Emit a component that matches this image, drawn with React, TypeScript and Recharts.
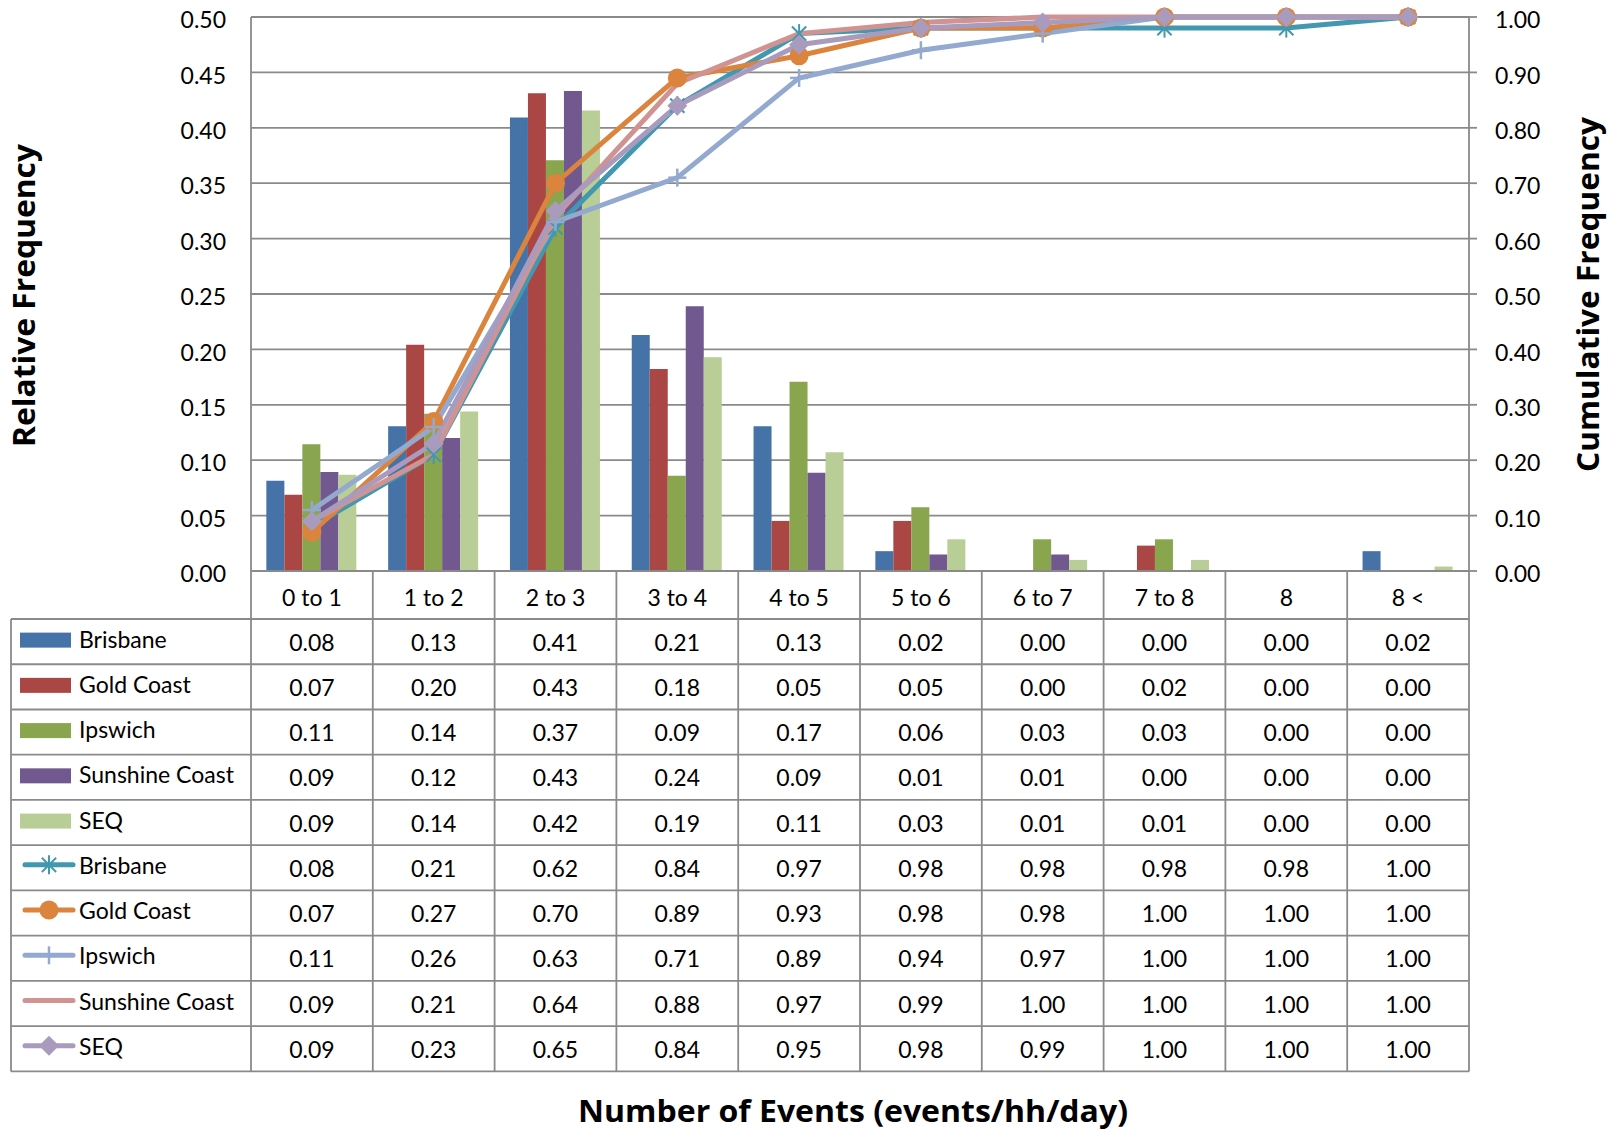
import React from "react";
import {
  ComposedChart,
  Bar,
  Line,
  XAxis,
  YAxis,
  CartesianGrid,
} from "recharts";

// categories (events/hh/day)
const categories = ["0 to 1", "1 to 2", "2 to 3", "3 to 4", "4 to 5", "5 to 6", "6 to 7", "7 to 8", "8", "8 <"];

// relative frequency (bars, left axis)
const brisbaneRel = [0.0815, 0.1307, 0.4093, 0.2129, 0.1307, 0.0179, 0, 0, 0, 0.0179];
const goldCoastRel = [0.0689, 0.2043, 0.4311, 0.1822, 0.0452, 0.0452, 0, 0.0229, 0, 0];
const ipswichRel = [0.1143, 0.142, 0.3707, 0.086, 0.1707, 0.0575, 0.0286, 0.0286, 0, 0];
const sunshineRel = [0.0893, 0.12, 0.4332, 0.239, 0.0886, 0.0149, 0.0149, 0, 0, 0];
const seqRel = [0.0868, 0.144, 0.4156, 0.1929, 0.1071, 0.0286, 0.01, 0.01, 0, 0.004];

// cumulative frequency (lines, right axis)
const brisbaneCum = [0.08, 0.21, 0.62, 0.84, 0.97, 0.98, 0.98, 0.98, 0.98, 1.0];
const goldCoastCum = [0.07, 0.27, 0.7, 0.89, 0.93, 0.98, 0.98, 1.0, 1.0, 1.0];
const ipswichCum = [0.11, 0.26, 0.63, 0.71, 0.89, 0.94, 0.97, 1.0, 1.0, 1.0];
const sunshineCum = [0.09, 0.21, 0.64, 0.88, 0.97, 0.99, 1.0, 1.0, 1.0, 1.0];
const seqCum = [0.09, 0.23, 0.65, 0.84, 0.95, 0.98, 0.99, 1.0, 1.0, 1.0];

const leftTicks = [0, 0.05, 0.1, 0.15, 0.2, 0.25, 0.3, 0.35, 0.4, 0.45, 0.5];
const rightTicks = [0, 0.1, 0.2, 0.3, 0.4, 0.5, 0.6, 0.7, 0.8, 0.9, 1.0];

// layout
const W = 1616;
const H = 1135;
const PLOT_LEFT = 251;
const PLOT_RIGHT = 1469;
const PLOT_TOP = 17;
const PLOT_BOTTOM = 571;
const CAT_ROW_BOTTOM = 619;
const TABLE_LEFT = 11;
const ROW_H = 45.24;
const GRID = "#8a8a8a";
const FONT = "Lato, sans-serif";
const TITLE_FONT = '"Open Sans", sans-serif';

type Marker = "star" | "circle" | "plus" | "none" | "diamond";

const barSeries = [
  { key: "bRel", name: "Brisbane", color: "#4572A7", values: brisbaneRel },
  { key: "gRel", name: "Gold Coast", color: "#AA4643", values: goldCoastRel },
  { key: "iRel", name: "Ipswich", color: "#89A54E", values: ipswichRel },
  { key: "sRel", name: "Sunshine Coast", color: "#71588F", values: sunshineRel },
  { key: "qRel", name: "SEQ", color: "#B9CD96", values: seqRel },
];

const lineSeries: { key: string; name: string; color: string; values: number[]; marker: Marker }[] = [
  { key: "bCum", name: "Brisbane", color: "#4198AF", values: brisbaneCum, marker: "star" },
  { key: "gCum", name: "Gold Coast", color: "#DB843D", values: goldCoastCum, marker: "circle" },
  { key: "iCum", name: "Ipswich", color: "#93A9CF", values: ipswichCum, marker: "plus" },
  { key: "sCum", name: "Sunshine Coast", color: "#D19392", values: sunshineCum, marker: "none" },
  { key: "qCum", name: "SEQ", color: "#A99BBD", values: seqCum, marker: "diamond" },
];

const data = categories.map((cat, i) => {
  const row: Record<string, string | number> = { cat };
  barSeries.forEach((s) => (row[s.key] = s.values[i]));
  lineSeries.forEach((s) => (row[s.key] = s.values[i]));
  return row;
});

function MarkerShape({ type, cx, cy, color }: { type: Marker; cx: number; cy: number; color: string }) {
  if (cx == null || cy == null) return null;
  if (type === "star") {
    const r = 9.5;
    const d = r * 0.75;
    return (
      <g stroke={color} strokeWidth={2}>
        <line x1={cx} y1={cy - r} x2={cx} y2={cy + r} />
        <line x1={cx - d} y1={cy - d} x2={cx + d} y2={cy + d} />
        <line x1={cx - d} y1={cy + d} x2={cx + d} y2={cy - d} />
      </g>
    );
  }
  if (type === "circle") return <circle cx={cx} cy={cy} r={9.5} fill={color} />;
  if (type === "plus") {
    const r = 9;
    return (
      <g stroke={color} strokeWidth={2.5}>
        <line x1={cx} y1={cy - r} x2={cx} y2={cy + r} />
        <line x1={cx - r} y1={cy} x2={cx + r} y2={cy} />
      </g>
    );
  }
  if (type === "diamond") {
    const r = 10;
    return <polygon points={`${cx},${cy - r} ${cx + r},${cy} ${cx},${cy + r} ${cx - r},${cy}`} fill={color} />;
  }
  return null;
}

export default function App() {
  const colW = (PLOT_RIGHT - PLOT_LEFT) / categories.length;
  const tableRows = [
    ...barSeries.map((s) => ({ ...s, kind: "bar" as const, marker: "none" as Marker })),
    ...lineSeries.map((s) => ({ ...s, kind: "line" as const })),
  ];
  const tableBottom = CAT_ROW_BOTTOM + ROW_H * tableRows.length;
  const tickStyle = { fontFamily: FONT, fontSize: 23, fill: "#000" };
  const yTickStyle = { ...tickStyle, dy: 3 };

  return (
    <div style={{ position: "absolute", left: 0, top: 0, width: W, height: H, background: "#fff", fontFamily: FONT }}>
      <ComposedChart
        width={W}
        height={CAT_ROW_BOTTOM}
        data={data}
        margin={{ top: PLOT_TOP, right: 0, bottom: 0, left: 0 }}
        barCategoryGap="12.6%"
        barGap={0}
      >
        <CartesianGrid yAxisId="left" vertical={false} stroke={GRID} strokeWidth={1.8} strokeDasharray="" />
        <XAxis
          dataKey="cat"
          interval={0}
          height={CAT_ROW_BOTTOM - PLOT_BOTTOM}
          tickLine={false}
          tickSize={0}
          tickMargin={19}
          axisLine={{ stroke: GRID, strokeWidth: 1.8 }}
          tick={tickStyle}
        />
        <YAxis
          yAxisId="left"
          orientation="left"
          width={PLOT_LEFT}
          domain={[0, 0.5]}
          ticks={leftTicks}
          tickFormatter={(v: number) => v.toFixed(2)}
          tickLine={false}
          tickSize={8}
          tickMargin={17}
          axisLine={{ stroke: GRID, strokeWidth: 1.8 }}
          tick={yTickStyle}
        />
        <YAxis
          yAxisId="right"
          orientation="right"
          width={W - PLOT_RIGHT}
          domain={[0, 1]}
          ticks={rightTicks}
          tickFormatter={(v: number) => v.toFixed(2)}
          tickLine={{ stroke: GRID, strokeWidth: 1.8 }}
          tickSize={8}
          tickMargin={18}
          axisLine={{ stroke: GRID, strokeWidth: 1.8 }}
          tick={yTickStyle}
        />
        {barSeries.map((s) => (
          <Bar key={s.key} yAxisId="left" dataKey={s.key} name={s.name} fill={s.color} isAnimationActive={false} />
        ))}
        {lineSeries.map((s) => (
          <Line
            key={s.key}
            yAxisId="right"
            type="linear"
            dataKey={s.key}
            name={s.name}
            stroke={s.color}
            strokeWidth={5}
            isAnimationActive={false}
            activeDot={false}
            dot={(p: any) => (
              <MarkerShape key={`${s.key}-${p.index}`} type={s.marker} cx={p.cx} cy={p.cy} color={s.color} />
            )}
          />
        ))}
      </ComposedChart>

      <svg
        width={W}
        height={H}
        style={{ position: "absolute", left: 0, top: 0, pointerEvents: "none" }}
        fontFamily={FONT}
      >
        {/* column separators through category row and table */}
        {Array.from({ length: categories.length + 1 }, (_, i) => (
          <line
            key={`v${i}`}
            x1={PLOT_LEFT + i * colW}
            x2={PLOT_LEFT + i * colW}
            y1={PLOT_BOTTOM}
            y2={tableBottom}
            stroke={GRID}
            strokeWidth={1.8}
          />
        ))}
        <line x1={TABLE_LEFT} x2={TABLE_LEFT} y1={CAT_ROW_BOTTOM} y2={tableBottom} stroke={GRID} strokeWidth={1.8} />
        {Array.from({ length: tableRows.length + 1 }, (_, k) => (
          <line
            key={`h${k}`}
            x1={TABLE_LEFT}
            x2={PLOT_RIGHT}
            y1={CAT_ROW_BOTTOM + k * ROW_H}
            y2={CAT_ROW_BOTTOM + k * ROW_H}
            stroke={GRID}
            strokeWidth={1.8}
          />
        ))}

        {tableRows.map((r, k) => {
          const cy = CAT_ROW_BOTTOM + k * ROW_H + ROW_H / 2;
          return (
            <g key={`row${k}`}>
              {r.kind === "bar" ? (
                <rect x={20} y={cy - 9} width={51} height={15} fill={r.color} />
              ) : (
                <g>
                  <line x1={25} x2={73} y1={cy - 3} y2={cy - 3} stroke={r.color} strokeWidth={5} strokeLinecap="round" />
                  <MarkerShape type={r.marker} cx={49} cy={cy - 3} color={r.color} />
                </g>
              )}
              <text x={79} y={cy + 6} fontSize={23} fill="#000">
                {r.name}
              </text>
              {r.values.map((v, i) => (
                <text key={i} x={PLOT_LEFT + (i + 0.5) * colW} y={cy + 9} fontSize={23} fill="#000" textAnchor="middle">
                  {v.toFixed(2)}
                </text>
              ))}
            </g>
          );
        })}

        <g fontFamily={TITLE_FONT} fontWeight={700} fontSize={30} fill="#000">
          <text
            transform="translate(35,295.5) rotate(-90)"
            textAnchor="middle"
            textLength={303}
            lengthAdjust="spacingAndGlyphs"
          >
            Relative Frequency
          </text>
          <text
            transform="translate(1599,294.5) rotate(-90)"
            textAnchor="middle"
            textLength={355}
            lengthAdjust="spacingAndGlyphs"
          >
            Cumulative Frequency
          </text>
          <text x={853} y={1122} textAnchor="middle" textLength={550} lengthAdjust="spacingAndGlyphs">
            Number of Events (events/hh/day)
          </text>
        </g>
      </svg>
    </div>
  );
}
